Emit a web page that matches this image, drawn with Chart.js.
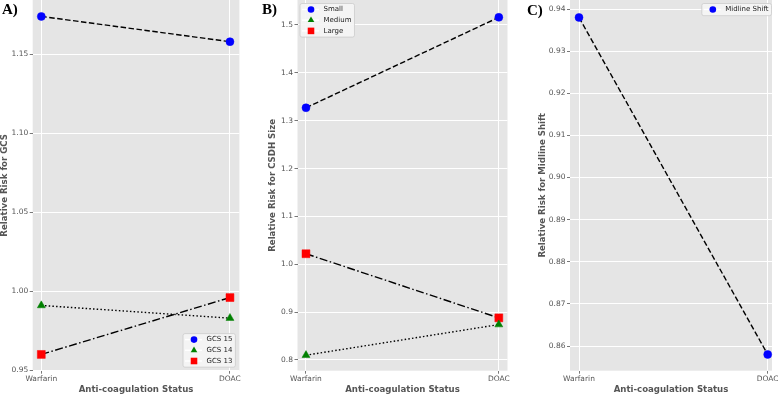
<!DOCTYPE html>
<html>
<head>
<meta charset="utf-8">
<script src="https://cdn.jsdelivr.net/npm/chart.js@4.4.1/dist/chart.umd.min.js"></script>
<style>
  body { margin: 0; background: #fff; width: 778px; height: 396px; position: relative; overflow: hidden; }
  .wrap { position: absolute; top: 0; height: 396px; }
  .lbl { position: absolute; font: bold 15px "Liberation Serif"; line-height: 15px; color: #000; z-index: 2; }
</style>
</head>
<body>
<div class="wrap" style="left:0;width:254px"><canvas id="chartA" width="254" height="396"></canvas></div>
<div class="wrap" style="left:268px;width:250px"><canvas id="chartB" width="250" height="396"></canvas></div>
<div class="wrap" style="left:538px;width:240px"><canvas id="chartC" width="240" height="396"></canvas></div>
<div class="lbl" style="left:2px;top:2px">A)</div>
<div class="lbl" style="left:262px;top:2px">B)</div>
<div class="lbl" style="left:527px;top:3px">C)</div>
<script>
const categories = ["Warfarin", "DOAC"];

const gcs15 = [1.174, 1.158];
const gcs14 = [0.991, 0.983];
const gcs13 = [0.960, 0.996];

const sizeSmall = [1.327, 1.516];
const sizeMedium = [0.810, 0.874];
const sizeLarge = [1.022, 0.888];

const midlineShift = [0.938, 0.858];

const ticksA = [0.95, 1.0, 1.05, 1.1, 1.15];
const ticksB = [0.8, 0.9, 1.0, 1.1, 1.2, 1.3, 1.4, 1.5];
const ticksC = [0.86, 0.87, 0.88, 0.89, 0.9, 0.91, 0.92, 0.93, 0.94];

Chart.defaults.font.family = "'DejaVu Sans', sans-serif";

const DASH = [5.5, 2.5];
const DOT = [1.5, 2.2];
const DASHDOT = [8, 2.5, 1.5, 2.5];

// grey panel background + matplotlib-like legend inside the axes
const panelPlugin = {
  id: "panel",
  beforeDraw(chart) {
    const { ctx, chartArea: a } = chart;
    ctx.save();
    ctx.fillStyle = "#E5E5E5";
    ctx.fillRect(a.left, a.top, a.right - a.left, a.bottom - a.top);
    ctx.restore();
  },
  afterDraw(chart, args, opts) {
    const { ctx, chartArea: a } = chart;
    const sets = chart.data.datasets;
    ctx.save();
    ctx.font = "7px 'DejaVu Sans'";
    const tw = Math.max(...sets.map((d) => ctx.measureText(d.label).width));
    const rowH = 10.7;
    const w = 23.5 + tw + 3;
    const h = sets.length * rowH + 1.5;
    const gx = opts.gapX, gy = opts.gapY;
    const x = opts.corner.includes("right") ? a.right - gx - w : a.left + gx;
    const y = opts.corner.includes("lower") ? a.bottom - gy - h : a.top + gy;
    ctx.fillStyle = "rgba(245,245,245,0.9)";
    ctx.strokeStyle = "#cccccc";
    ctx.lineWidth = 0.8;
    ctx.beginPath();
    ctx.roundRect(x, y, w, h, 2);
    ctx.fill();
    ctx.stroke();
    sets.forEach((d, i) => {
      const cy = y + 6 + i * rowH;
      ctx.strokeStyle = "#fff";
      ctx.lineWidth = 1.5;
      ctx.setLineDash([]);
      ctx.beginPath();
      ctx.moveTo(x + 2, cy);
      ctx.lineTo(x + 19, cy);
      ctx.stroke();
      ctx.fillStyle = d.pointBackgroundColor;
      Chart.helpers.drawPoint(ctx, { pointStyle: d.pointStyle, radius: d.pointRadius * 0.83, rotation: 0, borderWidth: 0 }, x + 11, cy);
      ctx.fillStyle = "#222";
      ctx.textBaseline = "middle";
      ctx.textAlign = "left";
      ctx.fillText(d.label, x + 23.5, cy);
    });
    ctx.restore();
  },
};

function series(label, values, color, shape, radius, dash) {
  return {
    label,
    data: values.map((v, i) => ({ x: i, y: v })),
    borderColor: "#000",
    borderWidth: 1.4,
    borderDash: dash,
    pointStyle: shape,
    pointRadius: radius,
    pointHoverRadius: radius,
    pointBackgroundColor: color,
    pointBorderColor: color,
    pointBorderWidth: 0.5,
    tension: 0,
    fill: false,
    clip: false,
  };
}

function makeChart(id, cfg) {
  new Chart(document.getElementById(id), {
    type: "line",
    data: { datasets: cfg.datasets },
    plugins: [panelPlugin],
    options: {
      responsive: false,
      animation: false,
      layout: { autoPadding: false, padding: { left: 0, top: 0, right: cfg.padRight, bottom: 0 } },
      plugins: {
        legend: { display: false },
        tooltip: { enabled: false },
        panel: { corner: cfg.corner, gapX: cfg.gapX, gapY: 3.5 },
      },
      scales: {
        x: {
          type: "linear",
          min: cfg.xMin,
          max: cfg.xMax,
          afterBuildTicks: (s) => { s.ticks = categories.map((c, i) => ({ value: i })); },
          afterFit: (s) => { s.height = 25.3; s.paddingLeft = 0; s.paddingRight = 0; },
          ticks: {
            callback: (v) => categories[v],
            color: "#555",
            font: { size: 7.5 },
            padding: 1,
            maxRotation: 0,
            autoSkip: false,
          },
          grid: { color: "#fff", lineWidth: 1, tickColor: "#555", tickLength: 3, tickWidth: 0.8 },
          border: { display: false },
          title: {
            display: true,
            text: "Anti-coagulation Status",
            color: "#555",
            font: { size: 8.6, weight: "bold", lineHeight: 1 },
            padding: { top: 0, bottom: 2 },
          },
        },
        y: {
          type: "linear",
          min: cfg.yMin,
          max: cfg.yMax,
          afterBuildTicks: (s) => { s.ticks = cfg.yTicks.map((v) => ({ value: v })); },
          afterFit: (s) => { s.width = cfg.yWidth; s.paddingTop = 0; s.paddingBottom = 0; },
          ticks: {
            callback: (v) => v.toFixed(cfg.decimals),
            color: "#555",
            font: { size: 7.5 },
            padding: 1.5,
          },
          grid: { color: "#fff", lineWidth: 1, tickColor: "#555", tickLength: 3, tickWidth: 0.8 },
          border: { display: false },
          title: {
            display: true,
            text: cfg.yTitle,
            color: "#555",
            font: { size: 8.6, weight: "bold", lineHeight: 1 },
            padding: { top: 0, bottom: 0 },
          },
        },
      },
    },
  });
}

makeChart("chartA", {
  datasets: [
    series("GCS 15", gcs15, "#0000ff", "circle", 4, DASH),
    series("GCS 14", gcs14, "#008000", "triangle", 4.6, DOT),
    series("GCS 13", gcs13, "#ff0000", "rect", 5.6, DASHDOT),
  ],
  yTicks: ticksA, yMin: 0.9497, yMax: 1.1844, decimals: 2,
  xMin: -0.0456, xMax: 1.05,
  yWidth: 32.7, padRight: 254 - 239.4,
  yTitle: "Relative Risk for GCS",
  corner: "lower right", gapX: 4,
});

makeChart("chartB", {
  datasets: [
    series("Small", sizeSmall, "#0000ff", "circle", 4, DASH),
    series("Medium", sizeMedium, "#008000", "triangle", 4.6, DOT),
    series("Large", sizeLarge, "#ff0000", "rect", 5.6, DASHDOT),
  ],
  yTicks: ticksB, yMin: 0.7776, yMax: 1.5522, decimals: 1,
  xMin: -0.044, xMax: 1.045,
  yWidth: 297.5 - 268, padRight: 518 - 507.5,
  yTitle: "Relative Risk for CSDH Size",
  corner: "upper left", gapX: 2.5,
});

makeChart("chartC", {
  datasets: [
    series("Midline Shift", midlineShift, "#0000ff", "circle", 4, DASH),
  ],
  yTicks: ticksC, yMin: 0.85414, yMax: 0.94214, decimals: 2,
  xMin: -0.0477, xMax: 1.0228,
  yWidth: 32, padRight: 6,
  yTitle: "Relative Risk for Midline Shift",
  corner: "upper right", gapX: 0.5,
});
</script>
</body>
</html>
